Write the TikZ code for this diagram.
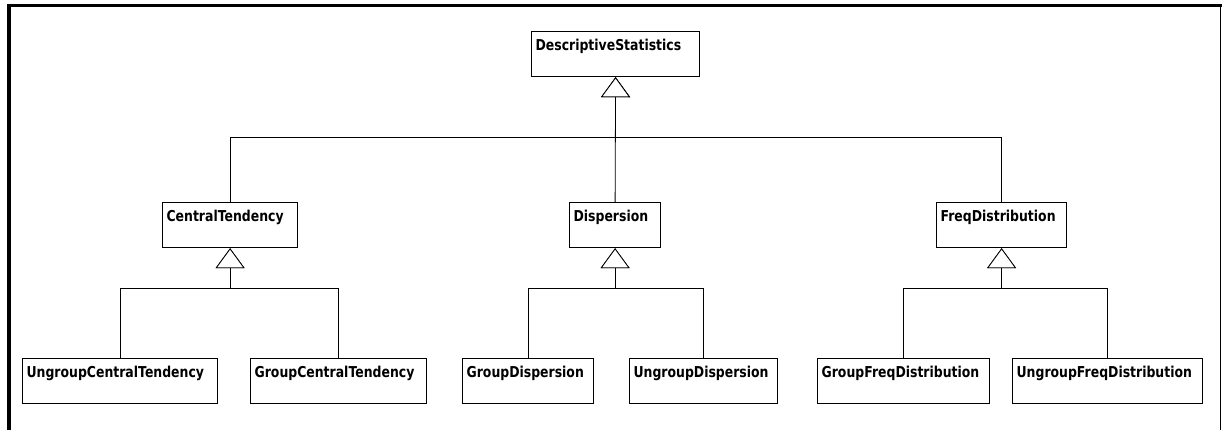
\documentclass[tikz,border=0pt]{standalone}
\usepackage{fontspec}
\setmainfont{DejaVu Sans}[FakeStretch=0.83]
\usepackage{tikz}
\usetikzlibrary{arrows.meta}

\tikzset{
  cls/.style={draw, line width=1.2pt, anchor=north west, inner xsep=4pt, inner ysep=0pt,
    text height=19pt, text depth=26pt, text width=#1, align=left,
    font=\fontsize{15}{17}\selectfont\bfseries},
  inherit/.style={line width=0.8pt, -{Triangle[length=20pt, width=29pt, fill=white]}}
}

\begin{document}
\begin{tikzpicture}[x=1pt, y=1pt]
    \useasboundingbox (0,0) rectangle (1222,-430);
    % Draw outer frame
    \draw [line width=3.5pt] (7,-5.5) -- (1222,-5.5);
    \draw [line width=4pt] (9,-4) -- (9,-430);
    \draw [line width=1.5pt] (1220.5,-7) -- (1220.5,-430);
    % Draw base class
    \node [cls=160pt] (ds) at (531,-31) {DescriptiveStatistics};
    % Draw second level classes
    \node [cls=127pt] (ct) at (162,-202) {CentralTendency};
    \node [cls=83pt] (dp) at (569,-202) {Dispersion};
    \node [cls=122pt] (fd) at (936,-202) {FreqDistribution};
    % Draw leaf classes
    \node [cls=187pt] (uct) at (22,-358) {UngroupCentralTendency};
    \node [cls=168pt] (gct) at (250,-358) {GroupCentralTendency};
    \node [cls=123pt] (gdp) at (462,-358) {GroupDispersion};
    \node [cls=140pt] (udp) at (629,-358) {UngroupDispersion};
    \node [cls=164pt] (gfd) at (817,-358) {GroupFreqDistribution};
    \node [cls=182pt] (ufd) at (1012,-358) {UngroupFreqDistribution};
    % Bar coordinates for the generalisation trees
    \coordinate (dsbar) at (ds.south |- 0,-137);
    \coordinate (ctbar) at (ct.south |- 0,-288);
    \coordinate (dpbar) at (dp.south |- 0,-288);
    \coordinate (fdbar) at (fd.south |- 0,-288);
    % Draw inheritance from base class
    \draw [inherit] (ct.north) |- (dsbar) -- (ds.south);
    \draw [inherit] (fd.north) |- (dsbar) -- (ds.south);
    \draw [inherit] (dp.north) -- (ds.south);
    % Draw inheritance of leaf classes
    \draw [inherit] (uct.north) |- (ctbar) -- (ct.south);
    \draw [inherit] (gct.north) |- (ctbar) -- (ct.south);
    \draw [inherit] (gdp.north) |- (dpbar) -- (dp.south);
    \draw [inherit] (udp.north) |- (dpbar) -- (dp.south);
    \draw [inherit] (gfd.north) |- (fdbar) -- (fd.south);
    \draw [inherit] (ufd.north) |- (fdbar) -- (fd.south);
\end{tikzpicture}
\end{document}
